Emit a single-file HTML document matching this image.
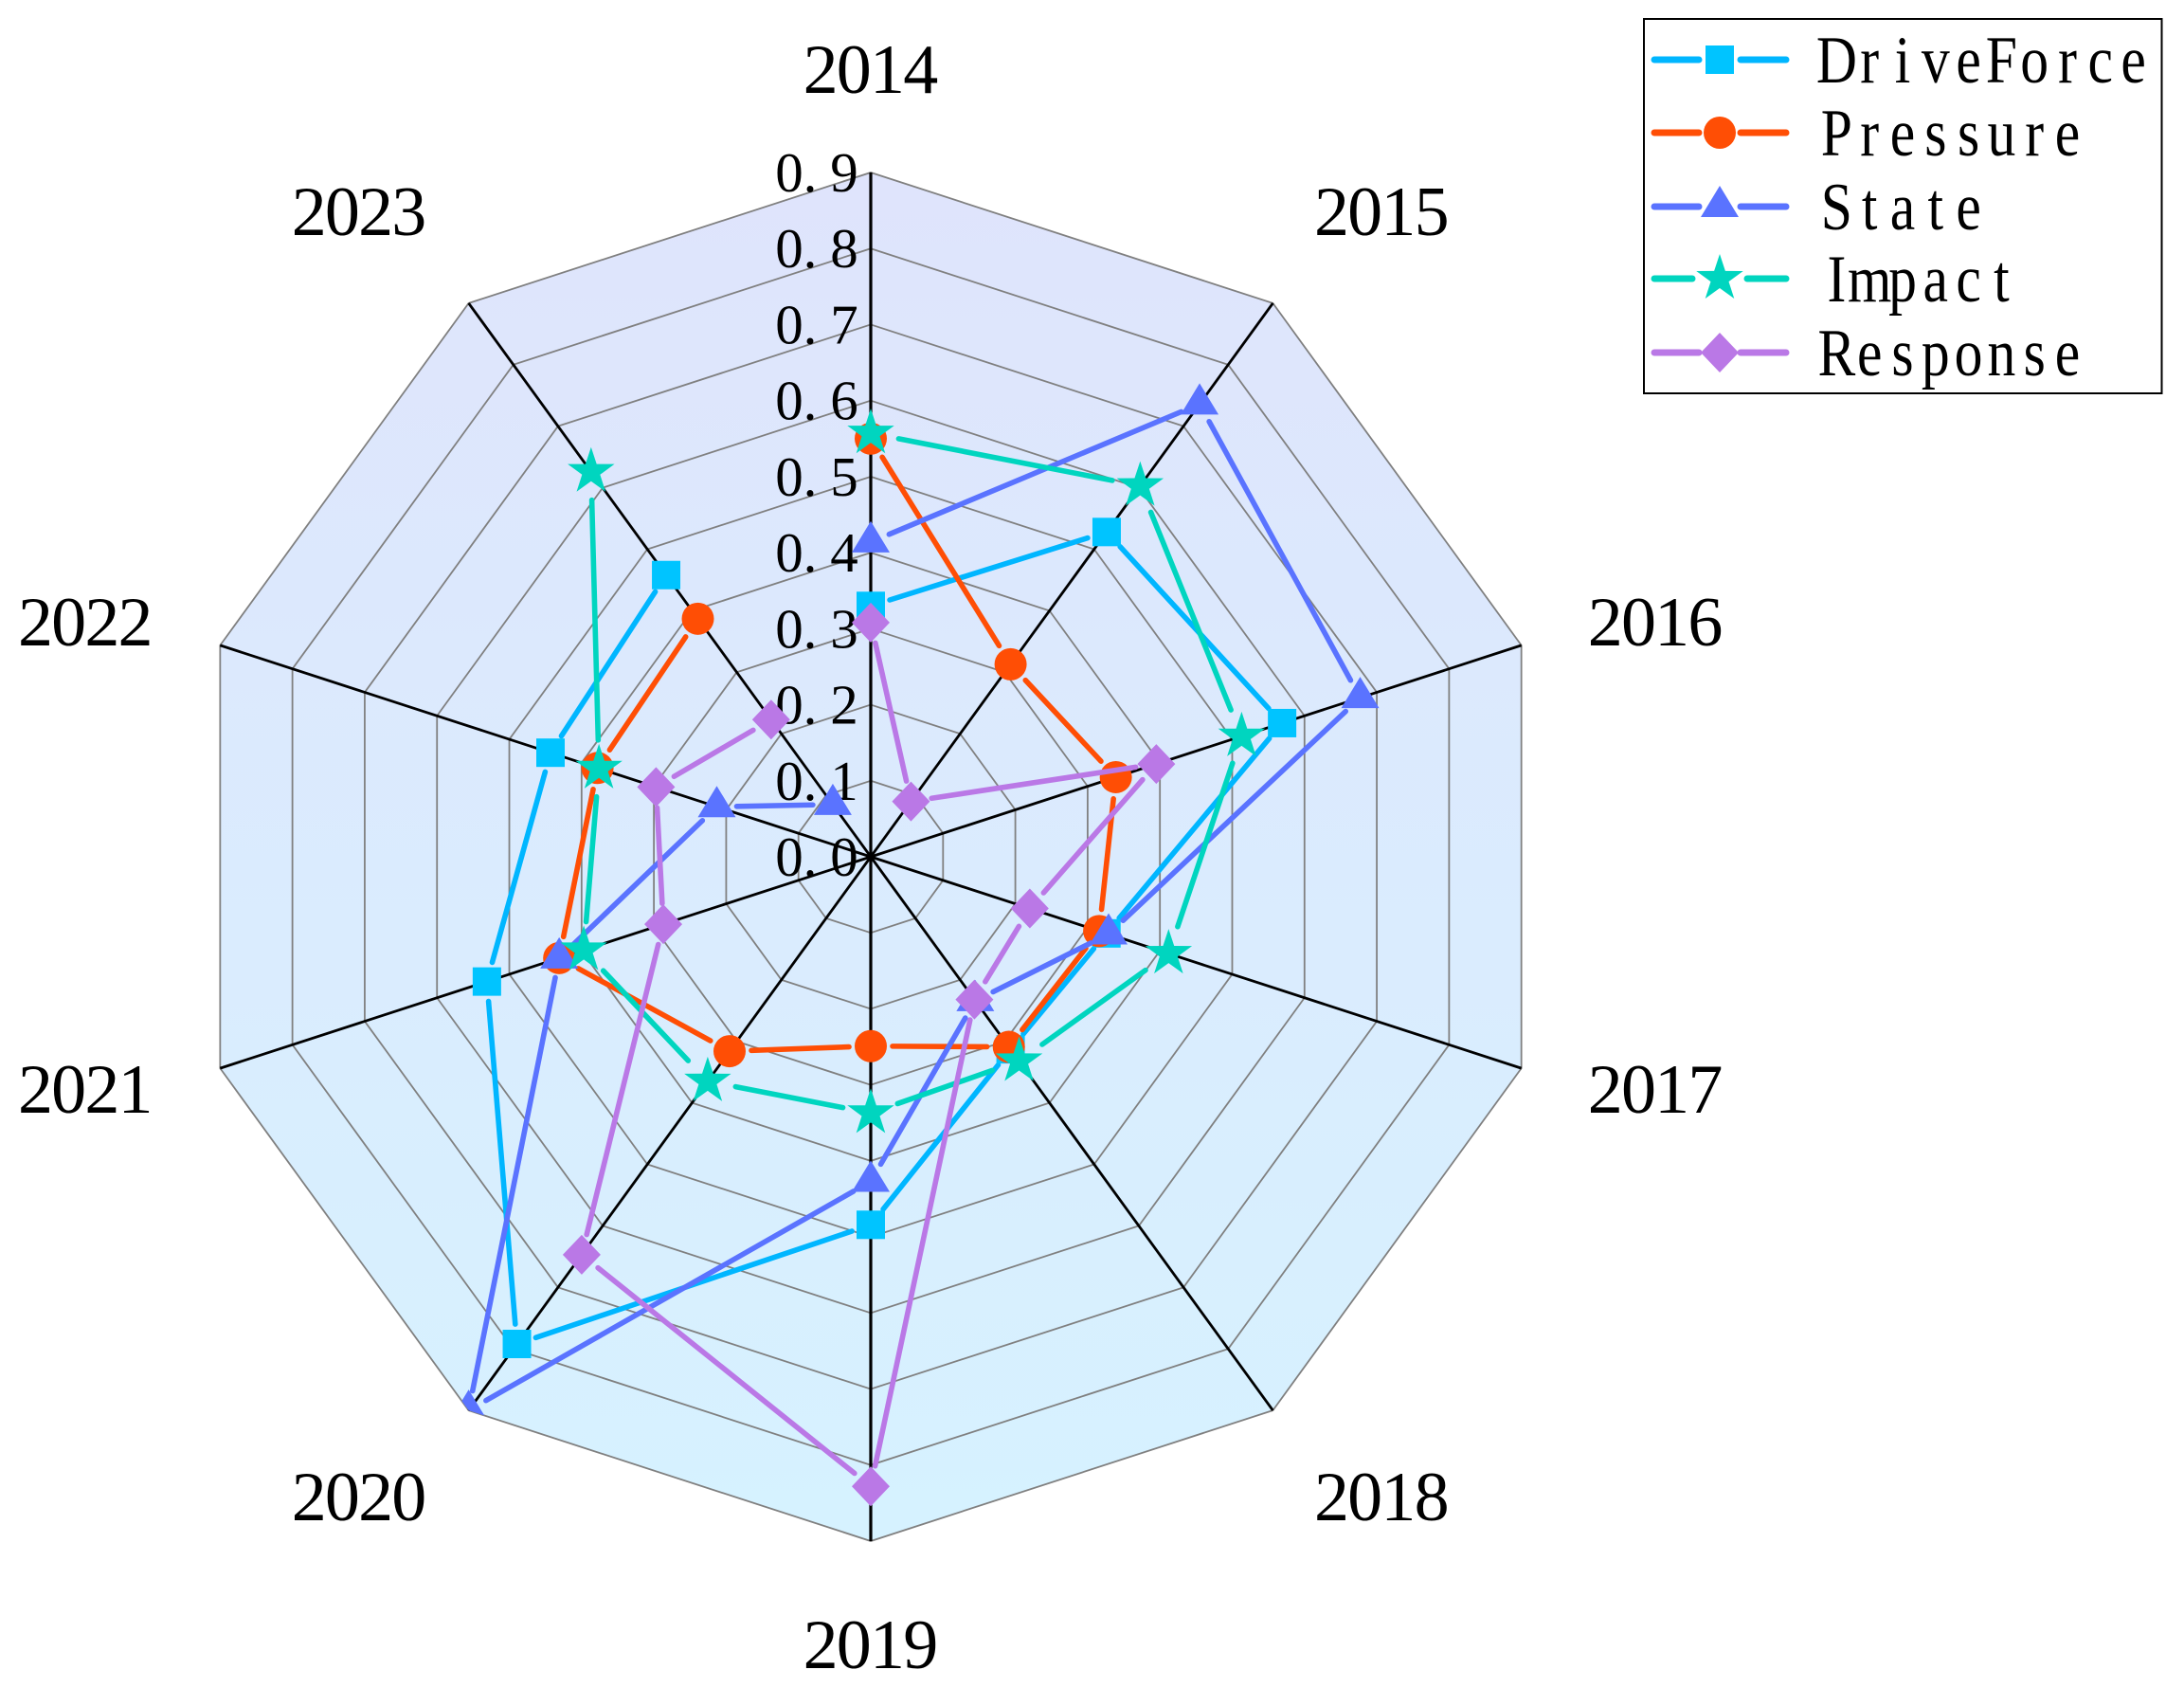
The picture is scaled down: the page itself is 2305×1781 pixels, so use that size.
<!DOCTYPE html>
<html>
<head>
<meta charset="utf-8">
<title>Radar chart</title>
<style>
html,body{margin:0;padding:0;background:#fff;}
svg{display:block;}
text{font-family:"Liberation Serif",serif;fill:#000;}
</style>
</head>
<body>
<svg id="chart" xmlns="http://www.w3.org/2000/svg" width="2305" height="1781" viewBox="0 0 2305 1781">
<defs>
<linearGradient id="bgGrad" gradientUnits="userSpaceOnUse" x1="0" y1="182" x2="0" y2="1626">
<stop offset="0" stop-color="#DFE4FC"/>
<stop offset="1" stop-color="#D6F2FF"/>
</linearGradient>
<clipPath id="plotClip"><polygon id="clipPoly" points="0,0"/></clipPath>
</defs>
<g id="plot-bg"></g>
<g id="grid"></g>
<g id="spokes"></g>
<g id="ticks"></g>
<g id="years"></g>
<g id="data" clip-path="url(#plotClip)"></g>
<g id="legend"></g>
</svg>
<script>
const categories = ["2014","2015","2016","2017","2018","2019","2020","2021","2022","2023"];
const tickLabels = ["0.0","0.1","0.2","0.3","0.4","0.5","0.6","0.7","0.8","0.9"];
const tickValues = [0,0.1,0.2,0.3,0.4,0.5,0.6,0.7,0.8,0.9];
const seriesNames = ["DriveForce","Pressure","State","Impact","Response"];
const driveForce = [0.33,0.528,0.569,0.326,0.313,0.484,0.792,0.531,0.443,0.458];
const pressure = [0.55,0.313,0.339,0.316,0.309,0.249,0.316,0.431,0.378,0.387];
const state = [0.414,0.736,0.677,0.329,0.234,0.427,0.9,0.431,0.213,0.085];
const impact = [0.557,0.603,0.513,0.412,0.332,0.337,0.365,0.397,0.376,0.626];
const response = [0.308,0.09,0.395,0.22,0.232,0.828,0.647,0.287,0.297,0.223];

const NS = "http://www.w3.org/2000/svg";
const CX = 919, CY = 904, R = 722, VMAX = 0.9;
const styles = [
  {values:driveForce, line:"#00B6FF", fill:"#00C4FF", marker:"square", gap:21, legendGap:19},
  {values:pressure,   line:"#FF4E05", fill:"#FF4E05", marker:"circle", gap:23, legendGap:19},
  {values:state,      line:"#5A73FF", fill:"#5A73FF", marker:"triangle", gap:21, legendGap:19},
  {values:impact,     line:"#00D5BF", fill:"#00D5BF", marker:"star", gap:30, legendGap:26},
  {values:response,   line:"#BA78E6", fill:"#BA78E6", marker:"diamond", gap:22, legendGap:19}
];
const measureCtx = document.createElement("canvas").getContext("2d");

function angleOf(i){ return i * 2 * Math.PI / categories.length; }
function radius(v){ return v / VMAX * R; }
function polar(i, v){
  const a = angleOf(i), r = radius(v);
  return {x: CX + r * Math.sin(a), y: CY - r * Math.cos(a)};
}
function mk(tag, attrs, parent){
  const el = document.createElementNS(NS, tag);
  for (const k in attrs) el.setAttribute(k, attrs[k]);
  parent.appendChild(el);
  return el;
}
function pts(arr){ return arr.map(p => p[0].toFixed(2) + "," + p[1].toFixed(2)).join(" "); }
function ringPoints(v){
  return categories.map((c,i) => { const p = polar(i,v); return [p.x,p.y]; });
}
function pitchText(parent, str, x0, baseline, size, pitch, sx){
  measureCtx.font = size + 'px "Liberation Serif"';
  const xs = [];
  for (let i = 0; i < str.length; i++){
    const w = measureCtx.measureText(str[i]).width;
    xs.push((((i + 0.5) * pitch / sx) - w / 2).toFixed(2));
  }
  const t = mk("text", {x: xs.join(" "), y: 0, "font-size": size,
    transform: "translate(" + x0 + "," + baseline + ") scale(" + sx + ",1)"}, parent);
  t.textContent = str;
  return t;
}
function drawMarker(parent, kind, x, y, fill){
  let el;
  if (kind === "square"){
    el = mk("rect", {x: x-15, y: y-15, width: 30, height: 30, fill: fill}, parent);
  } else if (kind === "circle"){
    el = mk("circle", {cx: x, cy: y, r: 17, fill: fill}, parent);
  } else if (kind === "triangle"){
    el = mk("polygon", {points: pts([[x,y-22],[x+20,y+11],[x-20,y+11]]), fill: fill}, parent);
  } else if (kind === "diamond"){
    el = mk("polygon", {points: pts([[x,y-21],[x+20,y],[x,y+21],[x-20,y]]), fill: fill}, parent);
  } else {
    const p = [];
    for (let k = 0; k < 10; k++){
      const r = k % 2 ? 10 : 26;
      const a = k * Math.PI / 5;
      p.push([x + r * Math.sin(a), y - r * Math.cos(a)]);
    }
    el = mk("polygon", {points: pts(p), fill: fill}, parent);
  }
  return el;
}

document.getElementById("clipPoly").setAttribute("points", pts(ringPoints(VMAX)));

/* background */
const bg = mk("polygon", {points: pts(ringPoints(VMAX)), fill: "url(#bgGrad)"}, document.getElementById("plot-bg"));



/* rings */
tickValues.slice(1).forEach(v => {
  const ring = mk("polygon", {points: pts(ringPoints(v)), fill: "none", stroke: "#808080", "stroke-width": 1.8}, document.getElementById("grid"));
  
  
});

/* spokes */
categories.forEach((c,i) => {
  const p = polar(i, VMAX);
  const s = mk("line", {x1: CX, y1: CY, x2: p.x, y2: p.y, stroke: "#000", "stroke-width": i % 5 === 0 ? 3.2 : 2.8}, document.getElementById("spokes"));
  
  
});

/* radial tick labels */
tickLabels.forEach((label,i) => {
  const y = CY - radius(tickValues[i]) + 20;
  measureCtx.font = '59px "Liberation Serif"';
  const centers = [833, 855, 891];
  const xs = label.split("").map((ch,k) => (centers[k] - measureCtx.measureText(ch).width / 2).toFixed(2));
  const t = mk("text", {x: xs.join(" "), y: y, "font-size": 59}, document.getElementById("ticks"));
  t.textContent = label;
  
  
});

/* category labels */
const labelShift = [[0,109],[115,94],[141.5,22]];
categories.forEach((c,i) => {
  const p = polar(i, VMAX);
  const a = angleOf(i), sinA = Math.sin(a), cosA = Math.cos(a);
  const m = Math.abs(i) <= 2 ? i : (i >= 8 ? 10 - i : (i <= 5 ? Math.max(5 - i, 0) : i - 5));
  const sh = labelShift[m > 2 ? 2 : m];
  const side = Math.sign(Math.round(sinA * 1000));
  const lx = p.x + side * sh[0] + (side < 0 ? -0.5 : 0);
  const upperLift = (m === 1 || (m === 2 && cosA > 0)) ? 3 : 0;
  const ly = p.y - Math.sign(cosA) * sh[1] - upperLift;
  const t = pitchText(document.getElementById("years"), c, lx - 70.5, ly + 25, 74, 35.2, 1);
  
  
});

/* series */
styles.forEach((st, si) => {
  const g = mk("g", {}, document.getElementById("data"));
  
  
  const P = st.values.map((v,i) => polar(i,v));
  for (let i = 0; i < P.length - 1; i++){
    const a = P[i], b = P[i+1];
    const dx = b.x - a.x, dy = b.y - a.y, len = Math.hypot(dx,dy);
    if (len <= st.gap * 2) continue;
    const ux = dx / len, uy = dy / len;
    const seg = mk("line", {
      x1: a.x + ux * st.gap, y1: a.y + uy * st.gap,
      x2: b.x - ux * st.gap, y2: b.y - uy * st.gap,
      stroke: st.line, "stroke-width": 5.6, "stroke-linecap": "round"
    }, g);
    
    
  }
  P.forEach(p => {
    const m = drawMarker(g, st.marker, p.x, p.y, st.fill);
    
    
  });
});

/* legend */
const legendG = document.getElementById("legend");
const box = mk("rect", {x: 1735, y: 20, width: 546.5, height: 395, fill: "#fff", stroke: "#000", "stroke-width": 2}, legendG);


const legendRowY = [63, 140, 218, 294, 372];
seriesNames.forEach((name,i) => {
  const st = styles[i], y = legendRowY[i];
  const row = mk("g", {}, legendG);
  
  
  const mx = 1815;
  const l1 = mk("line", {x1: 1746, y1: y, x2: mx - st.legendGap - 3, y2: y, stroke: st.line, "stroke-width": 7, "stroke-linecap": "round"}, row);
  
  
  const l2 = mk("line", {x1: mx + st.legendGap + 3, y1: y, x2: 1885, y2: y, stroke: st.line, "stroke-width": 7, "stroke-linecap": "round"}, row);
  
  
  const m = drawMarker(row, st.marker, mx, y, st.fill);
  
  
  const t = pitchText(row, name, 1921, y + 24, 71, 34.8, 0.84);
  
  
});
</script>
</body>
</html>
